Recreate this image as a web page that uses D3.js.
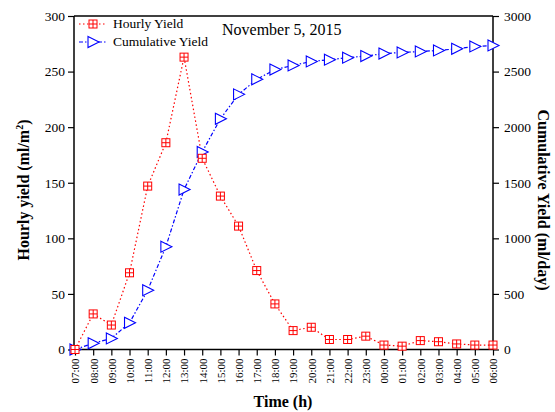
<!DOCTYPE html>
<html>
<head>
<meta charset="utf-8">
<script src="https://cdn.jsdelivr.net/npm/d3@7"></script>
<style>
body { margin: 0; background: #fff; }
svg text { font-family: "Liberation Serif", "Times New Roman", serif; }
</style>
</head>
<body>
<div id="chart"></div>
<script>
// hours of the day, 07:00 to 06:00 next morning
var hours = ["07:00","08:00","09:00","10:00","11:00","12:00","13:00","14:00","15:00","16:00","17:00","18:00",
             "19:00","20:00","21:00","22:00","23:00","00:00","01:00","02:00","03:00","04:00","05:00","06:00"];
// hourly yield (ml/m2), left axis
var hourly = [0, 32, 22, 69, 147, 186, 263, 172, 138, 111, 71, 41,
              17, 20, 9, 9, 12, 4, 3, 8, 7, 5, 4, 4];
// cumulative yield (ml/day), right axis
var cumulative = [0, 56, 100, 240, 534, 925, 1439, 1777, 2075, 2295, 2430, 2518,
                  2555, 2591, 2607, 2625, 2640, 2662, 2672, 2681, 2690, 2705, 2726, 2735];
var leftTicks = [0, 50, 100, 150, 200, 250, 300];
var rightTicks = [0, 500, 1000, 1500, 2000, 2500, 3000];

var width = 555,
	height = 412,
	plotLeft = 74, plotRight = 493,
	plotTop = 16, plotBottom = 349.5;

var svg = d3.select("#chart").append("svg")
	.attr("width", width)
	.attr("height", height);

var x = d3.scalePoint().domain(hours).range([plotLeft + 1, plotRight]);
var yL = d3.scaleLinear().domain([0, 300]).range([plotBottom, plotTop]);
var yR = d3.scaleLinear().domain([0, 3000]).range([plotBottom, plotTop]);

//frame top line
svg.append("line")
	.attr("x1", plotLeft).attr("x2", plotRight)
	.attr("y1", plotTop).attr("y2", plotTop)
	.attr("stroke", "#000").attr("stroke-width", 1.5);

//axes
var axL = svg.append("g").attr("transform", "translate(" + plotLeft + ",0)")
	.call(d3.axisLeft(yL).tickValues(leftTicks).tickSize(6).tickPadding(3));
var axR = svg.append("g").attr("transform", "translate(" + plotRight + ",0)")
	.call(d3.axisRight(yR).tickValues(rightTicks).tickFormat(d3.format("d")).tickSize(6).tickPadding(5));
var axB = svg.append("g").attr("transform", "translate(0," + plotBottom + ")")
	.call(d3.axisBottom(x).tickSize(6).tickPadding(3));

[axL, axR, axB].forEach(function(a) {
	a.attr("font-family", "Liberation Serif");
	a.select(".domain").attr("stroke", "#000").attr("stroke-width", 1.5);
	a.selectAll(".tick line").attr("stroke", "#000").attr("stroke-width", 1.2);
	a.selectAll("text").attr("fill", "#000").style("font-family", "Liberation Serif");
});
axL.selectAll("text").style("font-size", "13.5px");
axR.selectAll("text").style("font-size", "13.5px");
axB.select(".domain").attr("d", "M" + plotLeft + ",0H" + plotRight);
axL.select(".domain").attr("d", "M0," + plotBottom + "V" + plotTop);
axR.select(".domain").attr("d", "M0," + plotBottom + "V" + plotTop);
axB.selectAll("text")
	.style("font-size", "11px")
	.attr("text-anchor", "end")
	.attr("transform", "rotate(-90)")
	.attr("x", -9).attr("y", 0).attr("dy", "0.35em");

//lines
var lineH = d3.line().x(function(d, i) { return x(hours[i]); }).y(function(d) { return yL(d); });
var lineC = d3.line().x(function(d, i) { return x(hours[i]); }).y(function(d) { return yR(d); });

svg.append("path").datum(hourly)
	.attr("d", lineH).attr("fill", "none")
	.attr("stroke", "#ff0000").attr("stroke-width", 1.2)
	.attr("stroke-dasharray", "1.5,2.5");
svg.append("path").datum(cumulative)
	.attr("d", lineC).attr("fill", "none")
	.attr("stroke", "#0000ff").attr("stroke-width", 1.2)
	.attr("stroke-dasharray", "4,2,1.5,2");

//markers
function squareMark(g, cx, cy) {
	var s = 8;
	g.append("rect").attr("x", cx - s / 2).attr("y", cy - s / 2)
		.attr("width", s).attr("height", s)
		.attr("fill", "#fff").attr("stroke", "#ff0000").attr("stroke-width", 1);
	g.append("path")
		.attr("d", "M" + cx + "," + (cy - s / 2) + "V" + (cy + s / 2) + "M" + (cx - s / 2) + "," + cy + "H" + (cx + s / 2))
		.attr("stroke", "#ff0000").attr("stroke-width", 1);
}
function triMark(g, cx, cy) {
	g.append("path")
		.attr("d", "M" + (cx - 5) + "," + (cy - 5.5) + "L" + (cx + 6) + "," + cy + "L" + (cx - 5) + "," + (cy + 5.5) + "Z")
		.attr("fill", "#fff").attr("stroke", "#0000ff").attr("stroke-width", 1.1);
}

var mk = svg.append("g");
cumulative.forEach(function(d, i) { triMark(mk, x(hours[i]), yR(d)); });
hourly.forEach(function(d, i) { squareMark(mk, x(hours[i]), yL(d)); });

//legend
var lg = svg.append("g");
lg.append("line").attr("x1", 79).attr("x2", 106).attr("y1", 24).attr("y2", 24)
	.attr("stroke", "#ff0000").attr("stroke-width", 1.2).attr("stroke-dasharray", "1.5,2.5");
squareMark(lg, 93, 24);
lg.append("line").attr("x1", 79).attr("x2", 106).attr("y1", 42).attr("y2", 42)
	.attr("stroke", "#0000ff").attr("stroke-width", 1.2).attr("stroke-dasharray", "4,2,1.5,2");
triMark(lg, 93, 42);
lg.append("text").attr("x", 113).attr("y", 28).text("Hourly Yield").style("font-size", "13.5px");
lg.append("text").attr("x", 113).attr("y", 46).text("Cumulative Yield").style("font-size", "13.5px");

//title
svg.append("text").attr("x", 222).attr("y", 35).text("November 5, 2015").style("font-size", "16px");

//axis titles
var yt = svg.append("text")
	.attr("transform", "translate(29,190) rotate(-90)")
	.attr("text-anchor", "middle")
	.style("font-size", "16px").style("font-weight", "bold");
yt.append("tspan").text("Hourly yield (ml/m");
yt.append("tspan").text("2").attr("dy", -6).style("font-size", "10px");
yt.append("tspan").text(")").attr("dy", 6);

svg.append("text")
	.attr("transform", "translate(538,200) rotate(90)")
	.attr("text-anchor", "middle")
	.style("font-size", "16px").style("font-weight", "bold")
	.text("Cumulative Yield (ml/day)");

svg.append("text").attr("x", 283).attr("y", 407)
	.attr("text-anchor", "middle")
	.style("font-size", "16px").style("font-weight", "bold")
	.text("Time (h)");
</script>
</body>
</html>
